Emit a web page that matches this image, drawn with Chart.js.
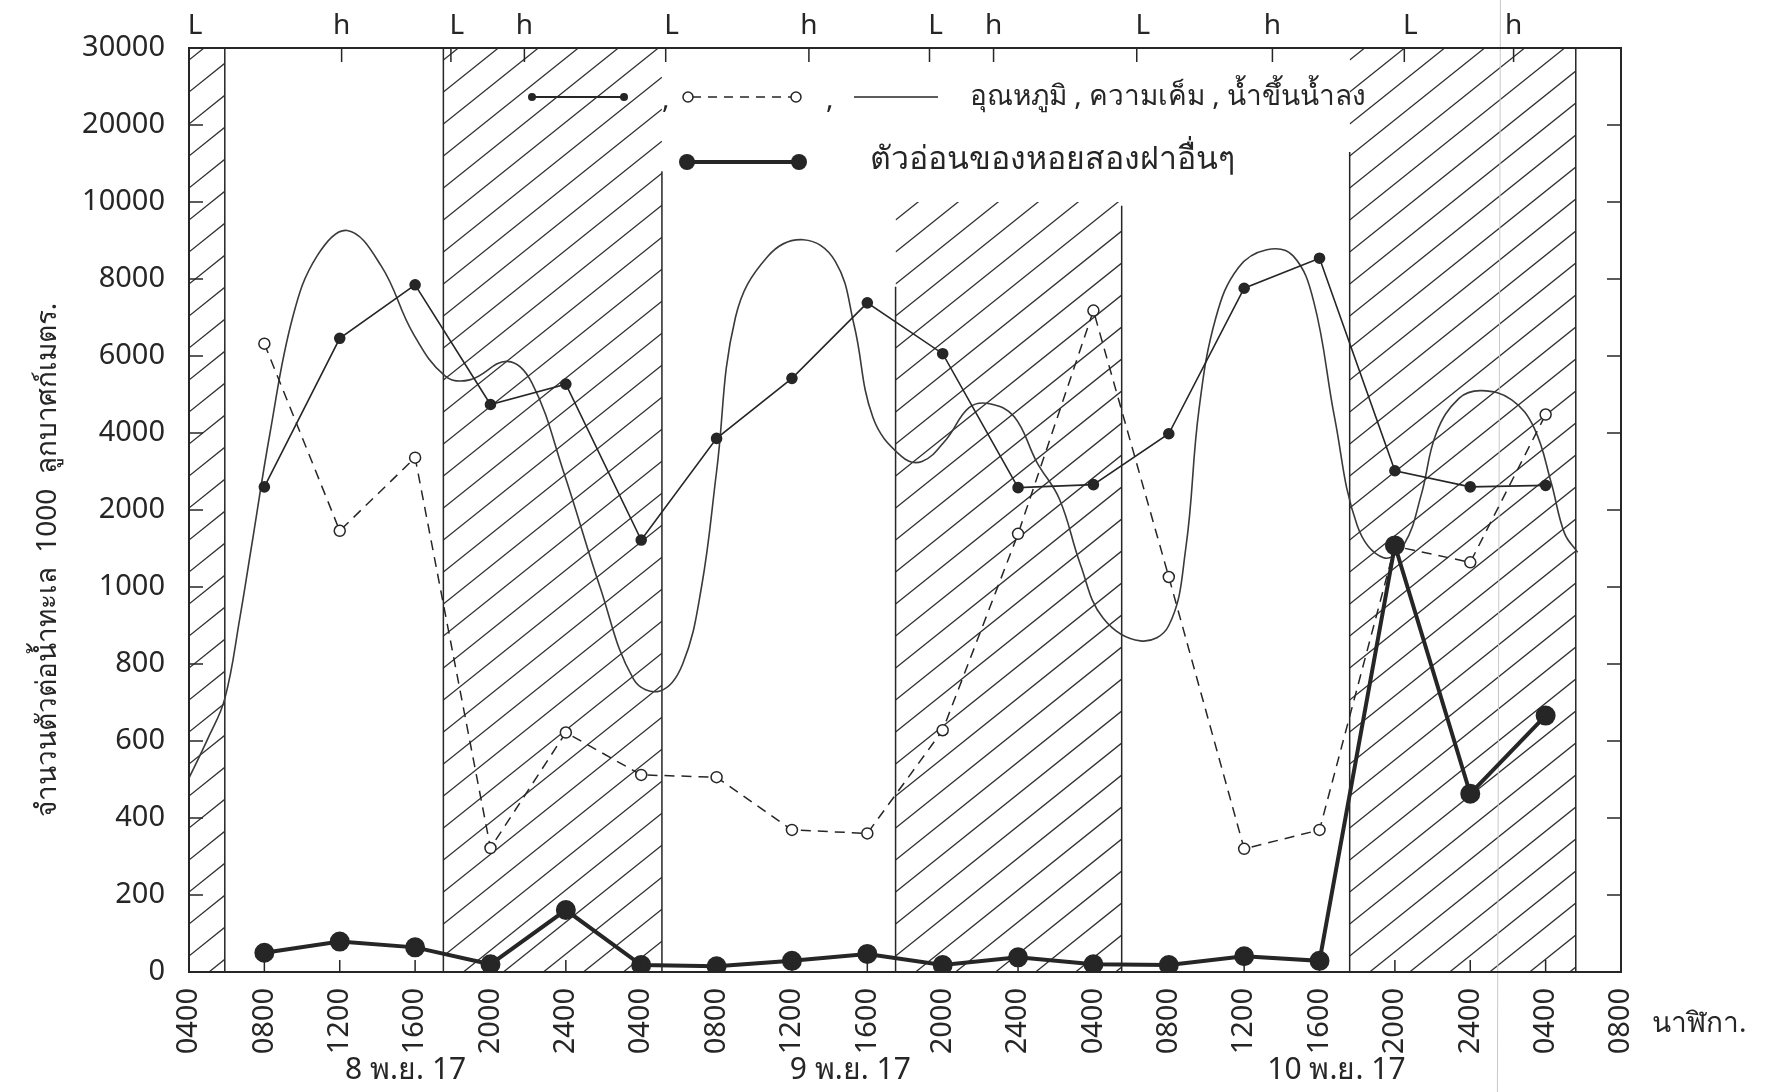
<!DOCTYPE html>
<html>
<head>
<meta charset="utf-8">
<script src="https://cdn.jsdelivr.net/npm/chart.js@4.4.1/dist/chart.umd.min.js"></script>
<style>
  html, body { margin: 0; padding: 0; background: #fff; }
  #wrap { width: 1769px; height: 1092px; position: relative; }
</style>
</head>
<body>
<div id="wrap"><canvas id="myChart" width="1769" height="1092"></canvas></div>
<script>
// y axis is drawn as equal steps between these values (not linear)
var yTickValues = [0, 200, 400, 600, 800, 1000, 2000, 4000, 6000, 8000, 10000, 20000, 30000];
var yTickLabels = ["0", "200", "400", "600", "800", "1000", "2000", "4000", "6000", "8000", "10000", "20000", "30000"];
// x axis in hours from 0400 on 8 Nov
var xTickLabels = ["0400","0800","1200","1600","2000","2400","0400","0800","1200","1600",
                   "2000","2400","0400","0800","1200","1600","2000","2400","0400","0800"];
var sampleHours = [4, 8, 12, 16, 20, 24, 28, 32, 36, 40, 44, 48, 52, 56, 60, 64, 68, 72];

var temperature = [2600, 6460, 7850, 4740, 5270, 1610, 3860, 5420, 7380, 6060, 2580, 2660, 3980, 7760, 8540, 3020, 2600, 2640];
var salinity    = [6320, 1730, 3360, 322, 622, 512, 506, 369, 360, 628, 1690, 7180, 1130, 320, 369, 1530, 1320, 4480];
var larvae      = [50, 79, 64, 20, 161, 18, 15, 29, 47, 18, 38, 20, 18, 41, 29, 1540, 463, 666];

var tideHours  = [0, 1.0, 1.9, 2.7, 3.3, 4.3, 5.5, 6.8, 8.4, 10.2, 11.9, 13.6, 14.9, 16.9, 18.2, 19.9, 21.8, 23.6, 25.0,
                  26.2, 27.2, 28.0, 29.0, 30.7, 32.6, 34.3, 35.3, 36.3, 37.8, 38.9, 40.2, 41.4, 42.5, 43.8, 45.0,
                  46.2, 47.3, 48.5, 50.5, 52.0, 52.9, 53.6, 54.5, 55.7, 57.2, 58.6, 59.7, 60.8, 62.0, 63.4, 64.5,
                  65.4, 66.2, 67.4, 68.6, 70.2, 71.4, 72.3, 73.0, 73.7];
var tideValues = [504, 606, 710, 920, 1500, 4000, 7000, 8600, 9260, 8340, 6580, 5480, 5380, 5860, 5300, 2960, 1010, 760, 730,
                  800, 1000, 3000, 7000, 8580, 9020, 8460, 6800, 4400, 3400, 3260, 3840, 4660, 4760, 4420, 3240,
                  2280, 1300, 920, 860, 900, 1500, 4600, 7000, 8300, 8760, 8600, 7400, 4400, 1800, 1380, 1560,
                  2400, 4000, 4900, 5100, 4860, 4120, 2700, 1700, 1450];

var tideMarks     = ["L", "h", "L", "h", "L", "h", "L", "h", "L", "h", "L", "h"];
var tideMarkHours = [0, 8.1, 13.9, 17.8, 25.3, 32.9, 39.3, 42.7, 50.3, 57.5, 64.5, 70.3];

// hatched (night) bands and the vertical lines that bound them
var bandStart = [0, 13.5, 37.5, 61.6];
var bandEnd   = [1.9, 25.1, 49.5, 73.6];
var bandTop   = [12, 12, 10.0, 12];
var divHours  = [1.9, 13.5, 25.1, 37.5, 49.5, 61.6, 73.6];
var divTop    = [12, 12, 10.4, 8.9, 9.95, 10.65, 12];

var dateLabels = ["8 พ.ย. 17", "9 พ.ย. 17", "10 พ.ย. 17"];
var dateHours  = [11.5, 35.1, 60.9];

var FONT = "'Noto Sans', 'DejaVu Sans', sans-serif";
var INK = "#262626";

function toIdx(v) {
    for (var i = 0; i < yTickValues.length - 1; i++) {
        if (v <= yTickValues[i + 1]) {
            return i + (v - yTickValues[i]) / (yTickValues[i + 1] - yTickValues[i]);
        }
    }
    return yTickValues.length - 1;
}
function pts(hs, vs) {
    return hs.map(function (h, i) { return { x: h, y: toIdx(vs[i]) }; });
}

var paperPlugin = {
    id: "paper",
    beforeDatasetsDraw: function (chart) {
        var ctx = chart.ctx, xs = chart.scales.x, ys = chart.scales.y, ca = chart.chartArea;
        ctx.save();
        // hatching
        ctx.strokeStyle = "#333";
        ctx.lineWidth = 1.3;
        for (var b = 0; b < bandStart.length; b++) {
            var x0 = xs.getPixelForValue(bandStart[b]), x1 = xs.getPixelForValue(bandEnd[b]);
            var yt = ys.getPixelForValue(bandTop[b]);
            ctx.save();
            ctx.beginPath();
            ctx.rect(x0, yt, x1 - x0, ca.bottom - yt);
            ctx.clip();
            ctx.beginPath();
            for (var c = -2000; c < 2000; c += 32) {
                ctx.moveTo(x0, ca.bottom + c);
                ctx.lineTo(x1, ca.bottom + c - (x1 - x0) * 0.8);
            }
            ctx.stroke();
            ctx.restore();
        }
        // band boundaries
        ctx.lineWidth = 1.5;
        ctx.strokeStyle = INK;
        ctx.beginPath();
        divHours.forEach(function (h, i) {
            var px = xs.getPixelForValue(h);
            ctx.moveTo(px, ys.getPixelForValue(divTop[i]));
            ctx.lineTo(px, ca.bottom);
        });
        ctx.stroke();
        // faint scan line
        ctx.strokeStyle = "#c8c8c8";
        ctx.lineWidth = 1;
        ctx.beginPath();
        var fx = xs.getPixelForValue(69.6);
        ctx.moveTo(fx, 0);
        ctx.lineTo(fx - 3, chart.height);
        ctx.stroke();
        ctx.restore();
    },
    afterDraw: function (chart) {
        var ctx = chart.ctx, xs = chart.scales.x, ys = chart.scales.y, ca = chart.chartArea;
        ctx.save();
        // frame
        ctx.strokeStyle = INK;
        ctx.lineWidth = 2;
        ctx.strokeRect(ca.left, ca.top, ca.right - ca.left, ca.bottom - ca.top);
        // inner ticks
        ctx.lineWidth = 1.5;
        ctx.beginPath();
        for (var i = 1; i < yTickValues.length; i++) {
            var py = ys.getPixelForValue(i);
            ctx.moveTo(ca.left, py); ctx.lineTo(ca.left + 14, py);
            ctx.moveTo(ca.right, py); ctx.lineTo(ca.right - 14, py);
        }
        for (var h = 4; h < 76; h += 4) {
            var px = xs.getPixelForValue(h);
            ctx.moveTo(px, ca.bottom); ctx.lineTo(px, ca.bottom - 12);
        }
        tideMarkHours.forEach(function (th) {
            var p = xs.getPixelForValue(th);
            ctx.moveTo(p, ca.top); ctx.lineTo(p, ca.top + 14);
        });
        ctx.stroke();

        ctx.fillStyle = INK;
        // tide marks on top
        ctx.font = "28px " + FONT;
        ctx.textAlign = "center";
        ctx.textBaseline = "middle";
        tideMarks.forEach(function (m, i) {
            ctx.fillText(m, xs.getPixelForValue(tideMarkHours[i]) + (m === "L" ? 6 : 0), 26);
        });

        // legend
        ctx.strokeStyle = INK;
        ctx.lineWidth = 1.8;
        ctx.beginPath(); ctx.moveTo(532, 97); ctx.lineTo(624, 97); ctx.stroke();
        [532, 624].forEach(function (x) { ctx.beginPath(); ctx.arc(x, 97, 4, 0, Math.PI * 2); ctx.fill(); });
        ctx.font = "28px " + FONT;
        ctx.textAlign = "left";
        ctx.fillText(",", 662, 100);
        ctx.setLineDash([9, 7]);
        ctx.lineWidth = 1.5;
        ctx.beginPath(); ctx.moveTo(692, 97); ctx.lineTo(792, 97); ctx.stroke();
        ctx.setLineDash([]);
        [688, 796].forEach(function (x) {
            ctx.beginPath(); ctx.arc(x, 97, 5, 0, Math.PI * 2);
            ctx.fillStyle = "#fff"; ctx.fill(); ctx.stroke();
        });
        ctx.fillStyle = INK;
        ctx.fillText(",", 826, 100);
        ctx.beginPath(); ctx.moveTo(854, 97); ctx.lineTo(938, 97); ctx.stroke();
        ctx.fillText("อุณหภูมิ , ความเค็ม , น้ำขึ้นน้ำลง", 970, 97);

        ctx.lineWidth = 4;
        ctx.beginPath(); ctx.moveTo(687, 162); ctx.lineTo(799, 162); ctx.stroke();
        [687, 799].forEach(function (x) { ctx.beginPath(); ctx.arc(x, 162, 8, 0, Math.PI * 2); ctx.fill(); });
        ctx.font = "32px " + FONT;
        ctx.fillText("ตัวอ่อนของหอยสองฝาอื่นๆ", 870, 160);

        // y title
        ctx.save();
        ctx.translate(48, 560);
        ctx.rotate(-Math.PI / 2);
        ctx.textAlign = "center";
        ctx.font = "28px " + FONT;
        ctx.fillText("จำนวนตัวต่อน้ำทะเล  1000  ลูกบาศก์เมตร.", 0, 0);
        ctx.restore();

        // dates and x title
        ctx.font = "30px " + FONT;
        ctx.textAlign = "center";
        dateLabels.forEach(function (d, i) {
            ctx.fillText(d, xs.getPixelForValue(dateHours[i]), 1070);
        });
        ctx.textAlign = "left";
        ctx.font = "28px " + FONT;
        ctx.fillText("นาฬิกา.", 1652, 1024);
        ctx.restore();
    }
};

var ctx = document.getElementById("myChart").getContext("2d");
var myChart = new Chart(ctx, {
    type: "line",
    data: {
        datasets: [
            {
                label: "ตัวอ่อนของหอยสองฝาอื่นๆ",
                data: pts(sampleHours, larvae),
                borderColor: INK,
                backgroundColor: INK,
                borderWidth: 4,
                pointRadius: 8,
                tension: 0
            },
            {
                label: "อุณหภูมิ",
                data: pts(sampleHours, temperature),
                borderColor: INK,
                backgroundColor: INK,
                borderWidth: 1.6,
                pointRadius: 5,
                tension: 0
            },
            {
                label: "ความเค็ม",
                data: pts(sampleHours, salinity),
                borderColor: INK,
                backgroundColor: "#fff",
                borderWidth: 1.5,
                borderDash: [10, 7],
                pointRadius: 5.5,
                pointBorderWidth: 1.5,
                tension: 0
            },
            {
                label: "น้ำขึ้นน้ำลง",
                data: pts(tideHours, tideValues),
                borderColor: "#3a3a3a",
                borderWidth: 1.6,
                pointRadius: 0,
                tension: 0.4
            }
        ]
    },
    options: {
        responsive: false,
        animation: false,
        layout: { padding: { top: 48, right: 148, left: 0, bottom: 0 } },
        plugins: { legend: { display: false }, tooltip: { enabled: false } },
        scales: {
            x: {
                type: "linear",
                min: 0, max: 76,
                afterBuildTicks: function (scale) {
                    scale.ticks = xTickLabels.map(function (l, i) { return { value: i * 4 }; });
                },
                afterFit: function (scale) { scale.height = 120; },
                grid: { display: false },
                border: { display: false },
                ticks: {
                    autoSkip: false,
                    minRotation: 90, maxRotation: 90,
                    padding: 8,
                    color: INK,
                    font: { family: FONT, size: 29 },
                    callback: function (v) { return xTickLabels[Math.round(v / 4)]; }
                }
            },
            y: {
                type: "linear",
                min: 0, max: 12,
                afterBuildTicks: function (scale) {
                    scale.ticks = yTickLabels.map(function (l, i) { return { value: i }; });
                },
                afterFit: function (scale) { scale.width = 189; },
                grid: { display: false },
                border: { display: false },
                ticks: {
                    padding: 16,
                    color: INK,
                    font: { family: FONT, size: 29 },
                    callback: function (v) { return yTickLabels[v]; }
                }
            }
        }
    },
    plugins: [paperPlugin]
});
</script>
</body>
</html>
